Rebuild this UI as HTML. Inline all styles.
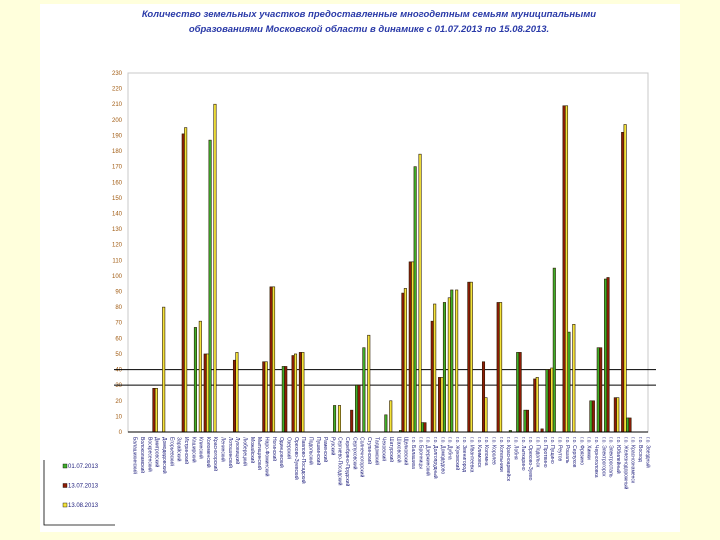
<!DOCTYPE html>
<html><head><meta charset="utf-8">
<style>
html,body{margin:0;padding:0;width:720px;height:540px;background:#ffffdc;overflow:hidden}
#page{position:absolute;left:40px;top:4px;width:640px;height:528px;background:#fff}
svg{position:absolute;left:0;top:0}
text{font-family:"Liberation Sans","DejaVu Sans",sans-serif}
</style></head>
<body>
<div id="page"></div>
<svg id="chart" width="720" height="540">
  <text x="369" y="17" text-anchor="middle" font-size="9.5" font-style="italic" font-weight="bold" fill="#2a3aa8">Количество земельных участков предоставленные многодетным семьям муниципальными</text>
  <text x="369" y="32" text-anchor="middle" font-size="9.5" font-style="italic" font-weight="bold" fill="#2a3aa8">образованиями Московской области в динамике с 01.07.2013 по 15.08.2013.</text>
</svg>
<script>
const categories = ["Балашихинский","Волоколамский","Воскресенский","Дмитровский","Домодедовский","Егорьевский","Зарайский","Истринский","Каширский","Клинский","Коломенский","Красногорский","Ленинский","Лотошинский","Луховицкий","Люберецкий","Можайский","Мытищинский","Наро-Фоминский","Ногинский","Одинцовский","Озерский","Орехово-Зуевский","Павлово-Посадский","Подольский","Пушкинский","Раменский","Рузский","Сергиево-Посадский","Серебряно-Прудский","Серпуховский","Солнечногорский","Ступинский","Талдомский","Чеховский","Шатурский","Шаховской","Щелковский","г.о. Балашиха","г.о. Бронницы","г.о. Дзержинский","г.о. Долгопрудный","г.о. Домодедово","г.о. Дубна","г.о. Жуковский","г.о. Звенигород","г.о. Ивантеевка","г.о. Климовск","г.о. Коломна","г.о. Королев","г.о. Котельники","г.о. Красноармейск","г.о. Лобня","г.о. Лыткарино","г.о. Орехово-Зуево","г.о. Подольск","г.о. Протвино","г.о. Пущино","г.о. Реутов","г.о. Рошаль","г.о. Серпухов","г.о. Фрязино","г.о. Химки","г.о. Черноголовка","г.о. Электрогорск","г.о. Электросталь","г.о. Юбилейный","г.о. Железнодорожный","г.о. Краснознаменск","г.о. Восход","г.о. Звездный"];
const s1 = [0,0,0,0,0,0,0,0,0,67,0,187,0,0,0,0,0,0,0,0,0,42,0,0,0,0,0,0,17,0,0,30,54,0,0,11,0,1,0,170,6,0,0,83,91,0,0,0,0,0,0,0,1,51,14,0,0,40,105,0,64,0,0,20,54,98,0,0,9,0,0];
const s2 = [0,0,0,28,0,0,0,191,0,0,50,0,0,0,46,0,0,0,45,93,0,42,49,51,0,0,0,0,0,0,14,30,0,0,0,0,0,89,109,0,6,71,35,0,0,0,96,0,45,0,83,0,0,51,14,34,2,40,0,209,0,0,0,20,54,99,22,192,9,0,0];
const s3 = [0,0,0,28,80,0,0,195,0,71,50,210,0,0,51,0,0,0,45,93,0,0,50,51,0,0,0,0,17,0,0,0,62,0,0,20,0,92,109,178,0,82,35,86,91,0,96,0,22,0,83,0,0,0,0,35,0,41,0,209,69,0,0,0,0,0,22,197,0,0,0];
const ticks = [0,10,20,30,40,50,60,70,80,90,100,110,120,130,140,150,160,170,180,190,200,210,220,230];
const seriesNames = ["01.07.2013","13.07.2013","13.08.2013"];
const colors = ["#3fae2a","#8e1c06","#f4e33a"];

const NS="http://www.w3.org/2000/svg";
const svg=document.getElementById('chart');
const X0=128,X1=648,Y0=432,Y1=73,VMAX=230;
const step=(X1-X0)/categories.length;
function yScale(v){return Y0-(v/VMAX)*(Y0-Y1);}
function xScale(i){return X0+i*step;}
function mk(tag,attrs){const e=document.createElementNS(NS,tag);for(const k in attrs)e.setAttribute(k,attrs[k]);svg.appendChild(e);return e;}

const frame=mk('rect',{x:X0,y:Y1,width:X1-X0,height:Y0-Y1,fill:'none',stroke:'#c8c8c8','stroke-width':1});



ticks.forEach(t=>{
  const y=yScale(t);
  const tl=mk('text',{x:X0-6,y:y+2,'text-anchor':'end','font-size':6,fill:'#a05a10'});
  tl.textContent=t;
  
  
});
[30,40].forEach(v=>{
  const g=mk('line',{x1:X0-14,x2:X1+8,y1:yScale(v),y2:yScale(v),stroke:'#000','stroke-width':1});
  
  
});

const series=[s1,s2,s3];
const bw=step/3;
categories.forEach((c,i)=>{
  series.forEach((s,k)=>{
    const v=s[i]; if(!v) return;
    const x=xScale(i)+0.3+k*bw, y=yScale(v);
    const b=mk('rect',{x:x,y:y,width:bw,height:Y0-y,fill:colors[k],stroke:'#2a1a00','stroke-width':0.6});
    
    
  });
  const lbl=mk('text',{x:0,y:0,'font-size':5,fill:'#1a1a7a',transform:`translate(${xScale(i)+step/2+2},${Y0+5}) rotate(90)`});
  lbl.textContent=c;
  
  
});
const ax=mk('line',{x1:X0,x2:X1,y1:Y0,y2:Y0,stroke:'#000','stroke-width':1});



const lg=mk('path',{d:'M44 460 V525 H115',fill:'none',stroke:'#000','stroke-width':0.8});


seriesNames.forEach((n,k)=>{
  const y=468+k*19.5;
  const sw=mk('rect',{x:63,y:y-4,width:4,height:4,fill:colors[k],stroke:'#000','stroke-width':0.4});
  
  
  const t=mk('text',{x:68,y:y,'font-size':6,fill:'#1a1a7a'});
  t.textContent=n;
  
  
});
</script>
</body></html>
